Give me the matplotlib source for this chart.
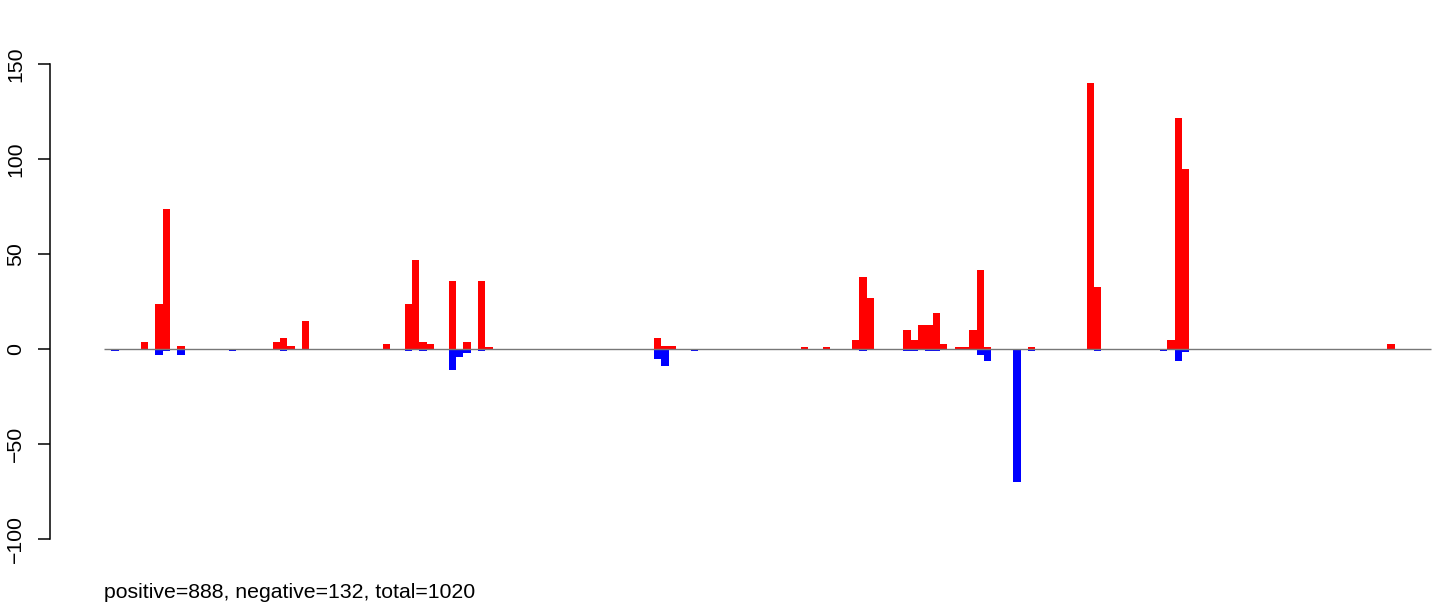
import matplotlib
matplotlib.use("Agg")
import matplotlib.pyplot as plt

# ---- data (bin index -> count) ----
red_bins = [5, 7, 8, 10, 23, 24, 25, 27, 38, 41, 42, 43, 44, 47, 49, 51, 52,
            75, 76, 77, 95, 98, 102, 103, 104, 109, 110, 111, 112, 113, 114,
            116, 117, 118, 119, 120, 126, 134, 135, 145, 146, 147, 175]
red_vals = [4, 24, 74, 2, 4, 6, 2, 15, 3, 24, 47, 4, 3, 36, 4, 36, 1,
            6, 2, 2, 1, 1, 5, 38, 27, 10, 5, 13, 13, 19, 3,
            1, 1, 10, 42, 1, 1, 140, 33, 5, 122, 95, 3]
blue_bins = [1, 7, 8, 10, 17, 24, 41, 43, 47, 48, 49, 51, 75, 76, 80,
             103, 109, 110, 112, 113, 119, 120, 124, 126, 135, 144, 146, 147]
blue_vals = [1, 3, 1, 3, 1, 1, 1, 1, 11, 4, 2, 1, 5, 9, 1,
             1, 1, 1, 1, 1, 3, 6, 70, 1, 1, 1, 6, 1.5]
n_bins = 181
y_ticks = [-100, -50, 0, 50, 100, 150]
caption = "positive=888, negative=132, total=1020"

plt.rcParams['font.family'] = ['Liberation Sans', 'DejaVu Sans']

W, H = 1444, 613
fig = plt.figure(figsize=(W / 100, H / 100), dpi=100)

# pixel layout
x0_px, bw_px = 104.0, 7.333      # left edge of bin 0, bin width
y0_px, upp = 349.3, 1.9          # y pixel of 0, pixels per unit
ax_l, ax_r, ax_t, ax_b = 50, 1440, 20, 560
ax = fig.add_axes([ax_l / W, 1 - ax_b / H, (ax_r - ax_l) / W, (ax_b - ax_t) / H])
ax.set_xlim((ax_l - x0_px) / bw_px, (ax_r - x0_px) / bw_px)
ax.set_ylim((y0_px - ax_b) / upp, (y0_px - ax_t) / upp)

ax.bar(red_bins, red_vals, width=1, align='edge', color='#ff0000',
       linewidth=0, antialiased=False, zorder=2)
ax.bar(blue_bins, [-v for v in blue_vals], width=1, align='edge', color='#0000ff',
       linewidth=0, antialiased=False, zorder=2)
ax.hlines(0, 0, n_bins, color='#777777', linewidth=1.0, zorder=3)

for s in ['top', 'right', 'bottom']:
    ax.spines[s].set_visible(False)
ax.spines['left'].set_bounds(min(y_ticks), max(y_ticks))
ax.spines['left'].set_linewidth(1.1)
ax.set_xticks([])
ax.set_yticks(y_ticks)
ax.set_yticklabels([str(t).replace('-', '\u2212') for t in y_ticks],
                   rotation=90, va='center', ha='center', fontsize=15.3)
ax.tick_params(axis='y', length=8.6, width=1.1, pad=16)

fig.text(x0_px / W, 1 - 598 / H, caption, fontsize=15.3, ha='left', va='baseline')

fig.savefig('out.png', dpi=100)
